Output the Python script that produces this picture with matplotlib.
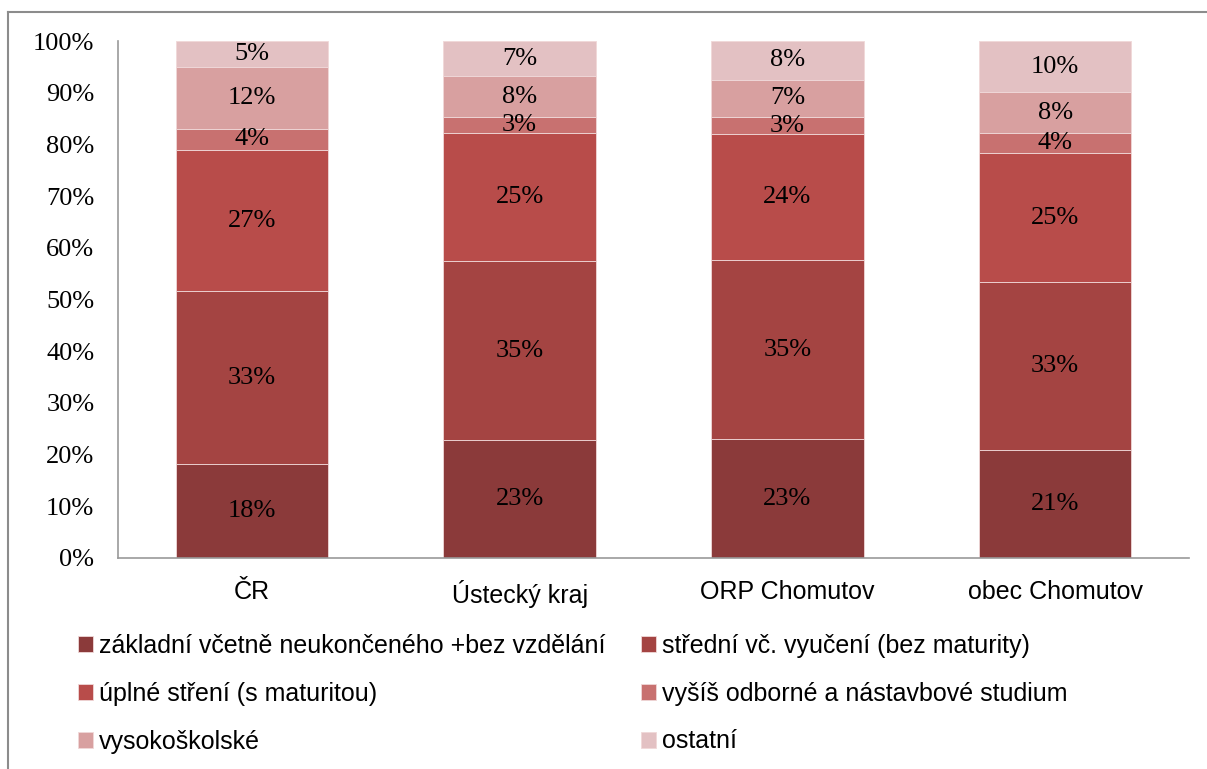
import matplotlib
matplotlib.use("Agg")
import matplotlib.pyplot as plt
from matplotlib.lines import Line2D
import numpy as np

categories = ["ČR", "Ústecký kraj", "ORP Chomutov", "obec Chomutov"]
series_names = [
    "základní včetně neukončeného +bez vzdělání",
    "střední vč. vyučení (bez maturity)",
    "úplné stření (s maturitou)",
    "vyšíš odborné a nástavbové studium",
    "vysokoškolské",
    "ostatní",
]
zakladni = [18.2, 22.8, 23.0, 20.9]
stredni = [33.4, 34.6, 34.6, 32.5]
uplne = [27.3, 24.8, 24.4, 24.9]
vyssi = [4.1, 3.1, 3.3, 3.9]
vysoke = [12.0, 7.9, 7.2, 7.9]
ostatni = [5.0, 6.8, 7.5, 9.9]
labels = [
    ["18%", "23%", "23%", "21%"],
    ["33%", "35%", "35%", "33%"],
    ["27%", "25%", "24%", "25%"],
    ["4%", "3%", "3%", "4%"],
    ["12%", "8%", "7%", "8%"],
    ["5%", "7%", "8%", "10%"],
]
yticks = [0, 10, 20, 30, 40, 50, 60, 70, 80, 90, 100]

colors = ["#8B3A3A", "#A44442", "#B84C4A", "#C87170", "#D8A0A0", "#E3C1C3"]
series = [zakladni, stredni, uplne, vyssi, vysoke, ostatni]

serif = ["Liberation Serif", "DejaVu Serif"]
sans = ["Liberation Sans", "DejaVu Sans"]

fig = plt.figure(figsize=(12.07, 7.69), dpi=100)
ax = fig.add_axes([118/1207, 1-558/769, (1189-118)/1207, (558-41)/769])

x = np.arange(len(categories))
bottom = np.zeros(len(categories))
handles = []
for i, (vals, col) in enumerate(zip(series, colors)):
    vals = np.array(vals)
    bars = ax.bar(x, vals, width=0.57, bottom=bottom, color=col,
                  edgecolor="#F0D8D8", linewidth=0.6, label=series_names[i])
    handles.append(bars)
    for j in range(len(categories)):
        ax.text(x[j], bottom[j] + vals[j] / 2, labels[i][j], ha="center",
                va="center", fontsize=19, family=serif, color="black")
    bottom += vals

ax.set_xlim(-0.5, 3.5)
ax.set_ylim(0, 100)
ax.set_yticks(yticks)
ax.set_yticklabels([f"{t}%" for t in yticks], fontsize=19, family=serif)
ax.set_xticks(x)
ax.set_xticklabels(categories, fontsize=18, family=sans)
ax.tick_params(axis="both", length=0)
ax.tick_params(axis="y", pad=17)
ax.tick_params(axis="x", pad=16)
for s in ["top", "right"]:
    ax.spines[s].set_visible(False)
for s in ["left", "bottom"]:
    ax.spines[s].set_color("#999999")
    ax.spines[s].set_linewidth(1.2)

order = [0, 2, 4, 1, 3, 5]
leg = fig.legend([handles[k] for k in order], [series_names[k] for k in order],
                 ncol=2, loc="upper left", bbox_to_anchor=(78/1207, 1-634/769),
                 frameon=False, prop={"family": sans, "size": 18},
                 handlelength=0.6, handleheight=0.6, handletextpad=0.25,
                 columnspacing=1.4, labelspacing=0.95, borderaxespad=0,
                 borderpad=0)

# outer border
fig.add_artist(Line2D([8/1207, 8/1207], [0, 1-12/769], transform=fig.transFigure,
                      color="#8C8C8C", lw=1.5))
fig.add_artist(Line2D([8/1207, 1], [1-12/769, 1-12/769], transform=fig.transFigure,
                      color="#8C8C8C", lw=1.5))

fig.savefig("out.png", dpi=100)
